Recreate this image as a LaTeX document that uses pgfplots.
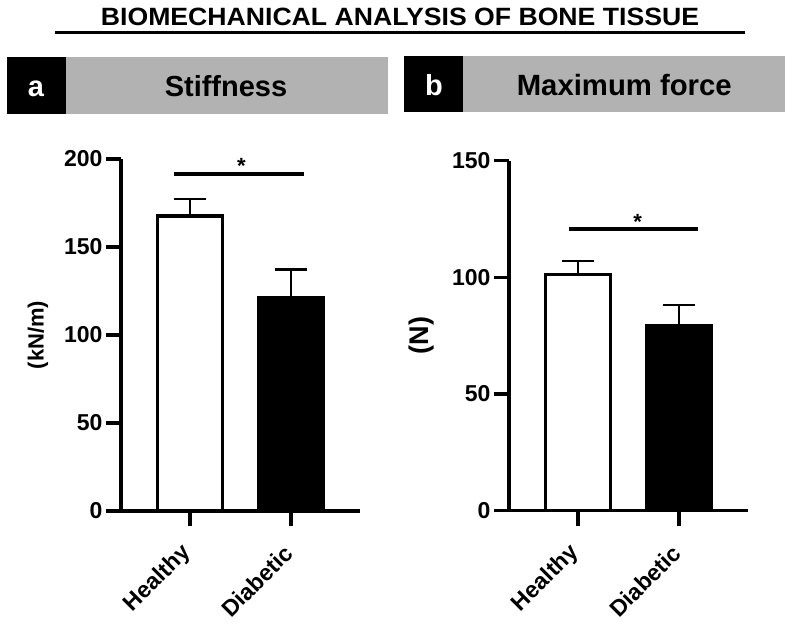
\documentclass[border=0pt]{standalone}
\usepackage{pgfplots}
\pgfplotsset{compat=1.18}
\usepackage{fontspec}
\setmainfont{Liberation Sans}
\definecolor{hdrgray}{gray}{0.70}
\pgfplotsset{
 panel/.style={
  scale only axis, width=239pt,
  xmin=-0.68, xmax=1.68, ymin=0,
  axis x line=bottom, axis y line=left,
  axis line style={line width=3.5pt, -},
  every tick/.style={line width=3.5pt, black},
  tick align=outside,
  major tick length=15pt,
  xtick={0,1}, xticklabels={Healthy,Diabetic},
  yticklabel style={font=\bfseries\fontsize{23}{26}\selectfont},
  xticklabel style={font=\bfseries\fontsize{23}{26}\selectfont, rotate=45, anchor=east},
  xticklabel shift=21pt,
  /pgf/number format/assume math mode=true,
  clip=false,
  enlargelimits=false,
 },
 barw/.style={ybar, bar width=65pt, bar shift=0pt, draw=black, line width=3.5pt,
  error bars/y dir=plus, error bars/y explicit,
  error bars/error bar style={line width=2.5pt, black},
  error bars/error mark options={rotate=90, mark size=16pt, line width=2.5pt, black}},
}
\begin{document}
\begin{tikzpicture}[x=1pt,y=1pt]
\useasboundingbox (0,0) rectangle (793,-627);
% title
\node[font=\bfseries\fontsize{25}{28}\selectfont, anchor=base, xscale=1.065] at (400,-25) {BIOMECHANICAL ANALYSIS OF BONE TISSUE};
\draw[line width=3pt] (55,-32.5) -- (745,-32.5);
% header a
\fill[black] (7,-57.3) rectangle (66,-114);
\fill[hdrgray] (66,-57.3) rectangle (388,-114);
\node[font=\bfseries\fontsize{29}{32}\selectfont, text=white, anchor=base] at (36,-96.7) {a};
\node[font=\bfseries\fontsize{29}{32}\selectfont, anchor=base] at (226,-96.7) {Stiffness};
% header b
\fill[black] (404,-56) rectangle (462.7,-111.7);
\fill[hdrgray] (462.7,-56) rectangle (785,-111.7);
\node[font=\bfseries\fontsize{29}{32}\selectfont, text=white, anchor=base] at (434,-95) {b};
\node[font=\bfseries\fontsize{29.3}{32}\selectfont, anchor=base] at (624.3,-95) {Maximum force};

\begin{axis}[panel, at={(121pt,-511pt)}, anchor=south west, height=352pt,
  ymax=200, ytick={0,50,100,150,200}, ylabel={(kN/m)},
  ylabel style={font=\bfseries\fontsize{22}{26}\selectfont}, ylabel shift=9pt]
\addplot[fill=white, barw] coordinates {(0,167.6) +- (0,9.8)};
\addplot[fill=black, barw] coordinates {(1,120.9) +- (0,16.2)};
\draw[line width=4pt] (axis cs:-0.16,191.6) -- (axis cs:1.13,191.6);
\node[font=\bfseries\fontsize{22}{26}\selectfont, anchor=base] at (axis cs:0.51,191.6) {*};
\end{axis}

\begin{axis}[panel, at={(509pt,-510.7pt)}, anchor=south west, height=350pt,
  ymax=150, ytick={0,50,100,150}, ylabel={(N)},
  ylabel style={font=\bfseries\fontsize{27}{30}\selectfont}, ylabel shift=11pt]
\addplot[fill=white, barw] coordinates {(0,101.3) +- (0,5.8)};
\addplot[fill=black, barw] coordinates {(1,79.3) +- (0,8.9)};
\draw[line width=4pt] (axis cs:-0.09,120.7) -- (axis cs:1.19,120.7);
\node[font=\bfseries\fontsize{22}{26}\selectfont, anchor=base] at (axis cs:0.59,120.7) {*};
\end{axis}
\end{tikzpicture}
\end{document}
